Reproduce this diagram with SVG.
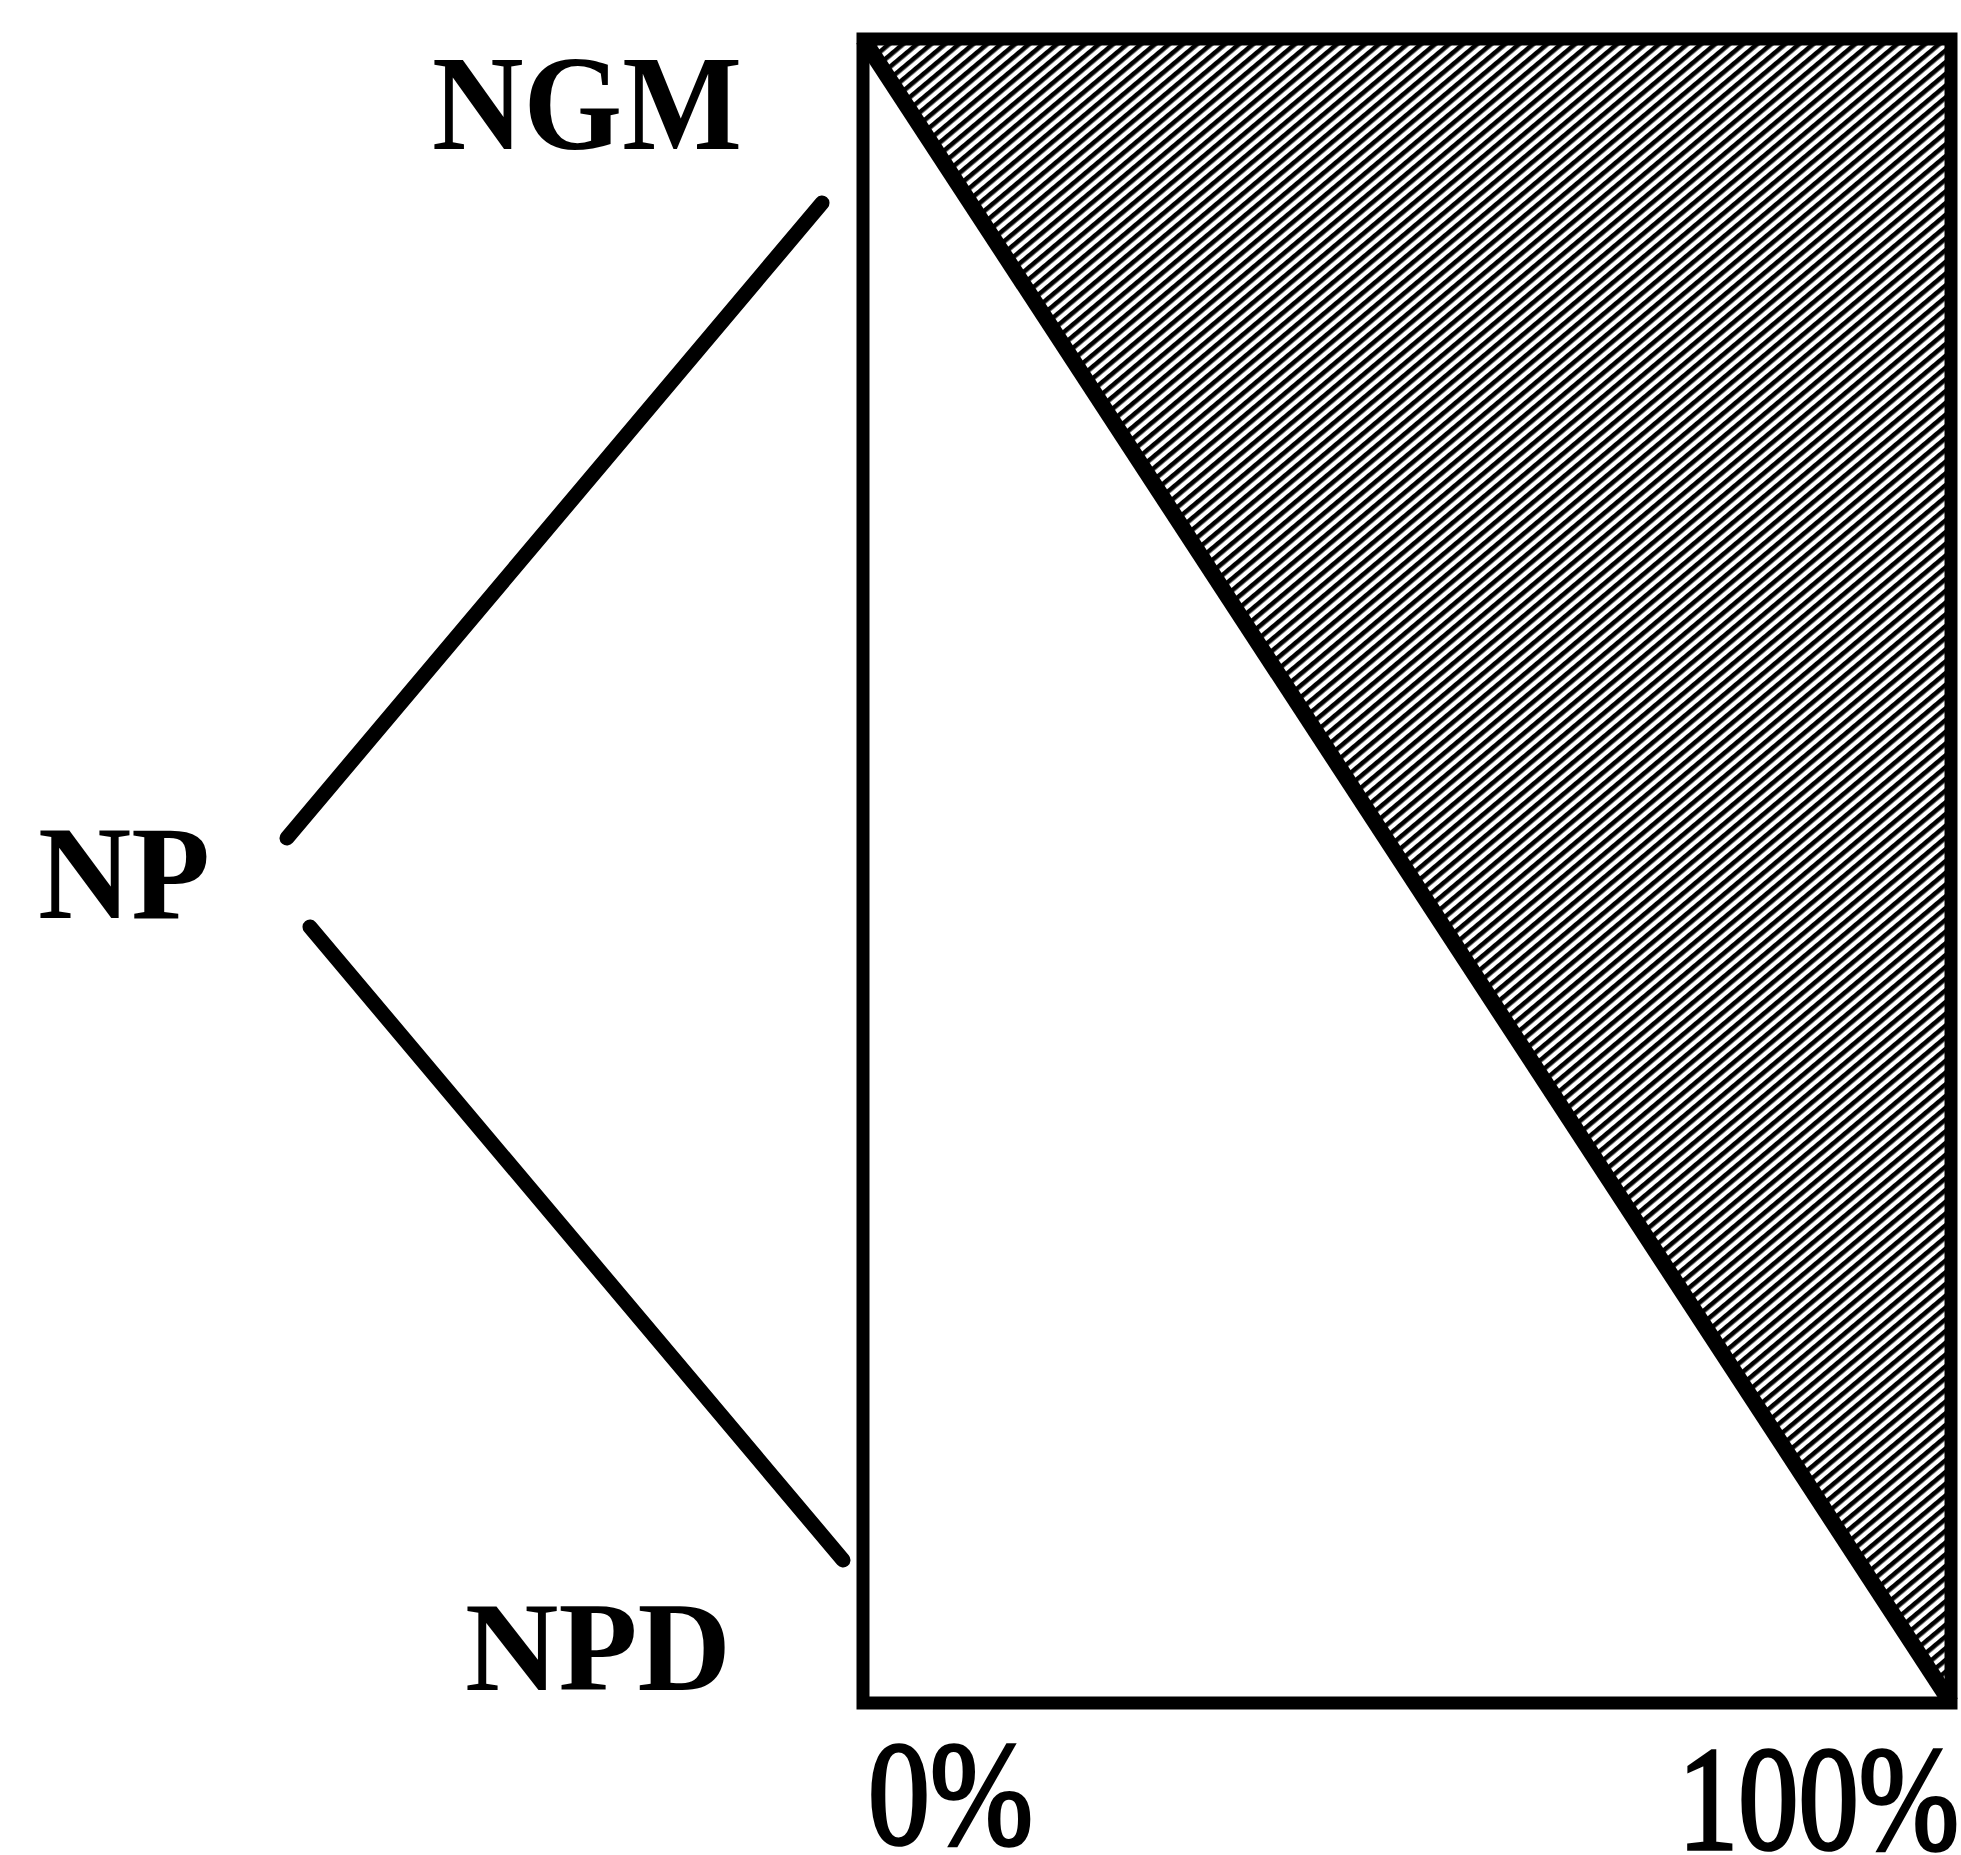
<svg xmlns="http://www.w3.org/2000/svg" width="1961" height="1855" viewBox="0 0 1961 1855">
<style>
.lbl{font-family:"Liberation Serif","Times New Roman",serif;font-weight:bold;fill:#000}
.num{font-family:"Liberation Serif","Times New Roman",serif;font-weight:normal;fill:#000;stroke:#000;stroke-width:3.5}
.edge{stroke:#000;stroke-width:15;stroke-linecap:round;fill:none}
.frame{stroke:#000;stroke-width:13;fill:none;stroke-linejoin:miter}
</style>
<defs>
<pattern id="hatch" width="9" height="9" patternUnits="userSpaceOnUse" patternTransform="rotate(-40)">
<rect width="9" height="9" fill="#fff"/>
<rect width="9" height="4.6" fill="#000"/>
</pattern>
</defs>
<rect width="1961" height="1855" fill="#fff"/>
<g id="chart">
<polygon points="863,39 1951,39 1951,1703" fill="url(#hatch)"/>
<rect class="frame" x="863" y="39" width="1088" height="1664"/>
<line x1="863" y1="39" x2="1951" y2="1703" stroke="#000" stroke-width="16"/>
</g>
<g id="connectors">
<line class="edge" x1="287" y1="838" x2="822" y2="203"/>
<line class="edge" x1="310" y1="927" x2="843" y2="1560"/>
</g>
<g id="node-NGM"><text class="lbl" x="432" y="149" font-size="136" textLength="310" lengthAdjust="spacingAndGlyphs">NGM</text></g>
<g id="node-NP"><text class="lbl" x="38" y="918" font-size="134" textLength="172" lengthAdjust="spacingAndGlyphs">NP</text></g>
<g id="node-NPD"><text class="lbl" x="465" y="1690" font-size="128" textLength="266" lengthAdjust="spacingAndGlyphs">NPD</text></g>
<g id="axis-labels">
<text class="num" x="868" y="1844" font-size="148" textLength="165" lengthAdjust="spacingAndGlyphs">0%</text>
<text class="num" x="1678" y="1849" font-size="148" textLength="281" lengthAdjust="spacingAndGlyphs">100%</text>
</g>
</svg>
